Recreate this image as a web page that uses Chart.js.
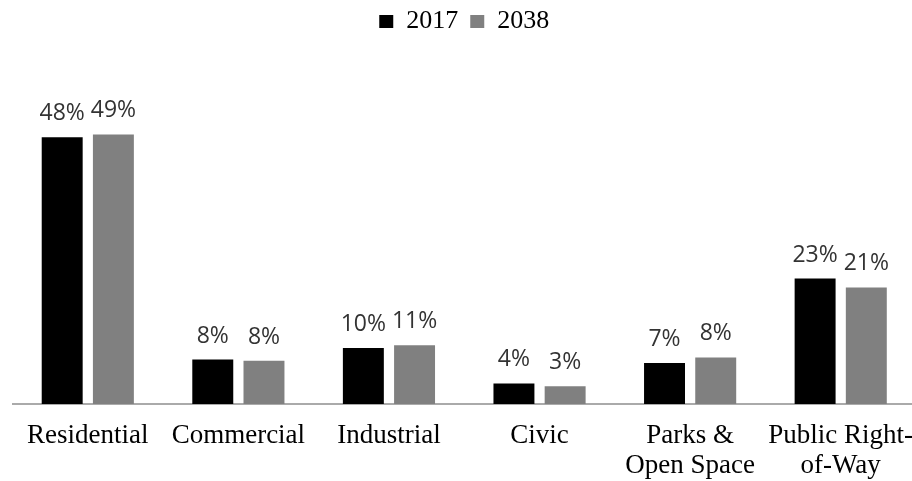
<!DOCTYPE html>
<html>
<head>
<meta charset="utf-8">
<script src="https://cdn.jsdelivr.net/npm/chart.js@4/dist/chart.umd.min.js"></script>
<style>
  html, body { margin: 0; padding: 0; background: #ffffff; overflow: hidden; }
  #wrap { width: 912px; height: 481px; overflow: hidden; }
</style>
</head>
<body>
<div id="wrap"><canvas id="c" width="916" height="481"></canvas></div>
<script>
const categories = ["Residential", "Commercial", "Industrial", "Civic", ["Parks &", "Open Space"], ["Public Right-", "of-Way"]];
const seriesNames = ["2017", "2038"];
const values2017 = [48.1, 8.0, 10.1, 3.7, 7.4, 22.6];
const values2038 = [48.6, 7.8, 10.6, 3.2, 8.4, 21.0];

const labelPlugin = {
  id: 'barLabels',
  afterDatasetsDraw(chart) {
    const ctx = chart.ctx;
    ctx.save();
    ctx.font = '23px "Open Sans"';
    ctx.fillStyle = '#333333';
    ctx.textAlign = 'center';
    ctx.textBaseline = 'alphabetic';
    chart.data.datasets.forEach((ds, di) => {
      const meta = chart.getDatasetMeta(di);
      meta.data.forEach((bar, i) => {
        ctx.fillText(Math.round(ds.data[i]) + '%', bar.x, bar.y - 17);
      });
    });
    ctx.restore();
  }
};

new Chart(document.getElementById('c'), {
  type: 'bar',
  data: {
    labels: categories,
    datasets: [
      { label: seriesNames[0], data: values2017, backgroundColor: '#000000', categoryPercentage: 0.68, barPercentage: 0.8 },
      { label: seriesNames[1], data: values2038, backgroundColor: '#808080', categoryPercentage: 0.68, barPercentage: 0.8 }
    ]
  },
  options: {
    responsive: false,
    animation: false,
    layout: { padding: { left: 12.5, right: 0, top: -3.5, bottom: 0 } },
    plugins: {
      legend: {
        position: 'top',
        labels: {
          boxWidth: 14,
          boxHeight: 13,
          padding: 12,
          color: '#000000',
          font: { family: '"Liberation Serif"', size: 26 }
        }
      },
      tooltip: { enabled: false }
    },
    scales: {
      x: {
        grid: { display: false, drawTicks: false },
        border: { display: true, color: '#aaaaaa', width: 2 },
        ticks: {
          color: '#000000',
          padding: 17,
          maxRotation: 0,
          autoSkip: false,
          font: { family: '"Liberation Serif"', size: 27, lineHeight: 1.11 }
        },
        afterFit(scale) { scale.height = 77; scale.paddingLeft = 0; scale.paddingRight = 0; }
      },
      y: {
        display: false,
        min: 0,
        max: 64.8
      }
    }
  },
  plugins: [labelPlugin]
});
</script>
</body>
</html>
